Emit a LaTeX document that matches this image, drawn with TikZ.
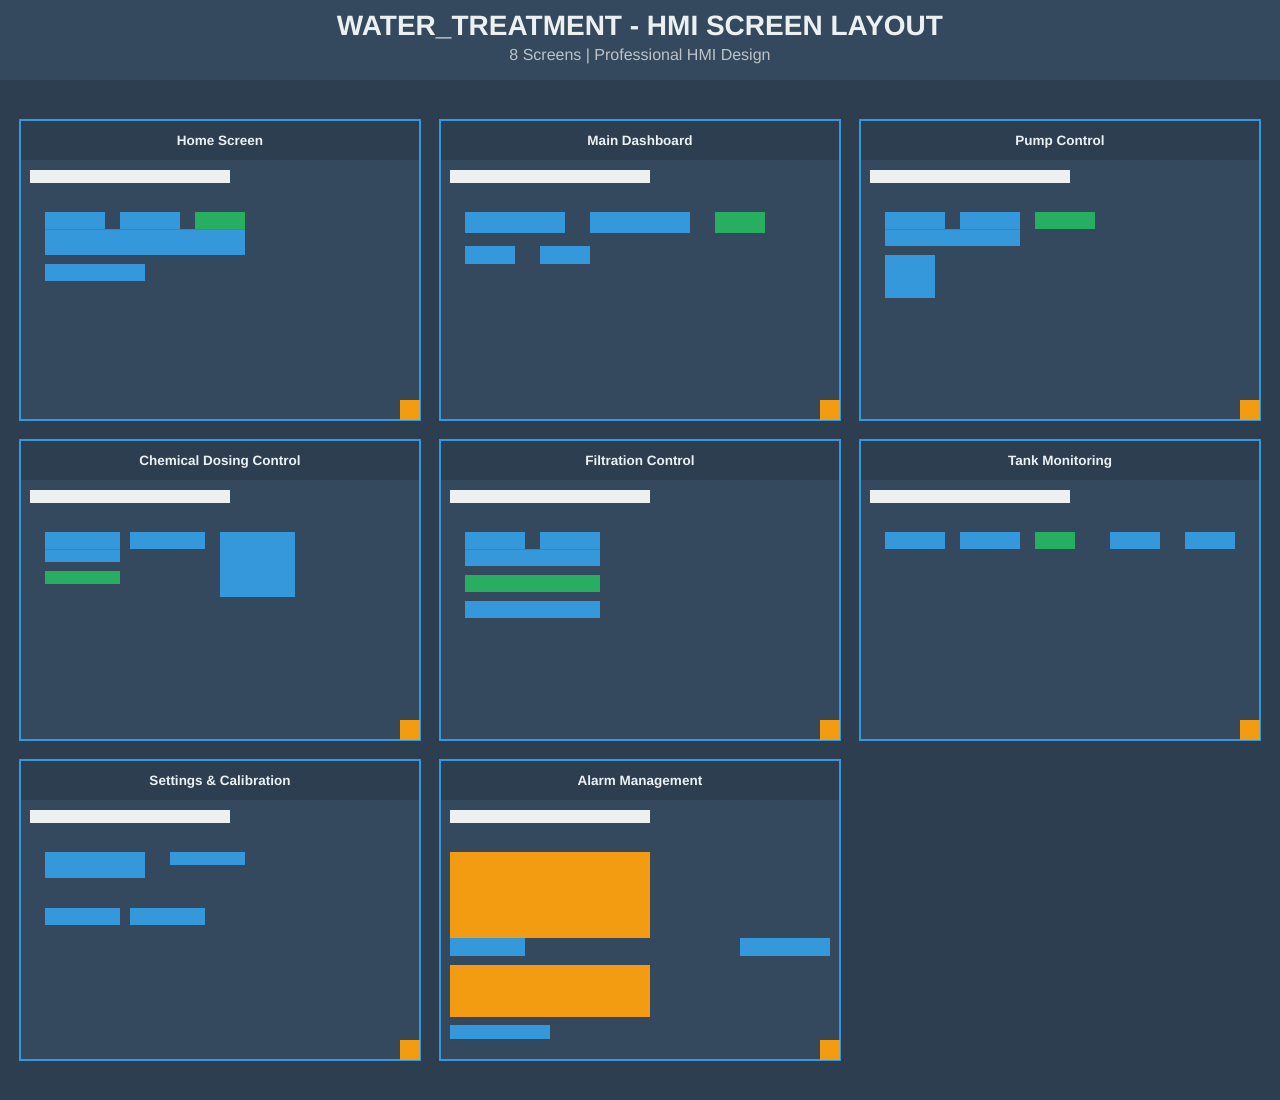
\documentclass[tikz,border=0pt]{standalone}
\usepackage{fontspec}
\setmainfont{Liberation Sans}
\usepackage{tikz}

\definecolor{pagebg}{HTML}{2C3E50}
\definecolor{bodybg}{HTML}{34495E}
\definecolor{frameblue}{HTML}{3498DB}
\definecolor{okgreen}{HTML}{27AE60}
\definecolor{warnorange}{HTML}{F39C12}
\definecolor{barwhite}{HTML}{ECF0F1}
\definecolor{subgray}{HTML}{BDC3C7}

\tikzset{
  blue widget/.style={fill=frameblue},
  green widget/.style={fill=okgreen},
  orange widget/.style={fill=warnorange},
  seam/.style={draw=frameblue!80!black,line width=1pt,opacity=.5},
  panel title/.style={anchor=base,text=barwhite,font=\bfseries\fontsize{13.5}{16}\selectfont,inner sep=0pt}
}

\begin{document}
\begin{tikzpicture}[x=1pt,y=-1pt]

\fill [pagebg] (0,0) rectangle (1280,1100);
\fill [bodybg] (0,0) rectangle (1280,80);

\node [anchor=base,text=barwhite,font=\bfseries\fontsize{28}{32}\selectfont,inner sep=0pt] (title) at (640,35) {WATER\_TREATMENT - HMI SCREEN LAYOUT};
\node [anchor=base,text=subgray,font=\fontsize{16}{19}\selectfont,inner sep=0pt] (subtitle) at (640,60) {8 Screens | Professional HMI Design};

% panels: frame, header band, title bar and corner mark
\foreach \px/\py/\pname/\ptitle in {20/120/home/Home Screen, 440/120/dash/Main Dashboard, 860/120/pump/Pump Control,
  20/440/chem/Chemical Dosing Control, 440/440/filt/Filtration Control, 860/440/tank/Tank Monitoring,
  20/760/sett/Settings \& Calibration, 440/760/alarm/Alarm Management} {
  \fill [bodybg] (\px,\py) rectangle ++(400,300);
  \fill [pagebg] (\px,\py) rectangle ++(400,40);
  \draw [frameblue,line width=2pt] (\px,\py) rectangle ++(400,300);
  \node [panel title] (\pname) at (\px+200,\py+25) {\ptitle};
  \fill [barwhite] (\px+10,\py+50) rectangle ++(200,13);
  \fill [warnorange] (\px+380,\py+280) rectangle ++(20,20);
}

% Home Screen
\fill [blue widget] (45,212) rectangle (105,229);
\fill [blue widget] (120,212) rectangle (180,229);
\fill [green widget] (195,212) rectangle (245,229);
\fill [blue widget] (45,229) rectangle (245,255);
\draw [seam] (45,229) -- (245,229);
\fill [blue widget] (45,264) rectangle (145,281);

% Main Dashboard
\fill [blue widget] (465,212) rectangle (565,233);
\fill [blue widget] (590,212) rectangle (690,233);
\fill [green widget] (715,212) rectangle (765,233);
\fill [blue widget] (465,246) rectangle (515,264);
\fill [blue widget] (540,246) rectangle (590,264);

% Pump Control
\fill [blue widget] (885,212) rectangle (945,229);
\fill [blue widget] (960,212) rectangle (1020,229);
\fill [green widget] (1035,212) rectangle (1095,229);
\fill [blue widget] (885,229) rectangle (1020,246);
\draw [seam] (885,229) -- (1020,229);
\fill [blue widget] (885,255) rectangle (935,298);

% Chemical Dosing Control
\fill [blue widget] (45,532) rectangle (120,562);
\draw [seam] (45,549) -- (120,549);
\fill [blue widget] (130,532) rectangle (205,549);
\fill [green widget] (45,571) rectangle (120,584);
\fill [blue widget] (220,532) rectangle (295,597);

% Filtration Control
\fill [blue widget] (465,532) rectangle (525,549);
\fill [blue widget] (540,532) rectangle (600,549);
\fill [blue widget] (465,549) rectangle (600,566);
\draw [seam] (465,549) -- (600,549);
\fill [green widget] (465,575) rectangle (600,592);
\fill [blue widget] (465,601) rectangle (600,618);

% Tank Monitoring
\fill [blue widget] (885,532) rectangle (945,549);
\fill [blue widget] (960,532) rectangle (1020,549);
\fill [green widget] (1035,532) rectangle (1075,549);
\fill [blue widget] (1110,532) rectangle (1160,549);
\fill [blue widget] (1185,532) rectangle (1235,549);

% Settings & Calibration
\fill [blue widget] (45,852) rectangle (145,878);
\fill [blue widget] (170,852) rectangle (245,865);
\fill [blue widget] (45,908) rectangle (120,925);
\fill [blue widget] (130,908) rectangle (205,925);

% Alarm Management
\fill [orange widget] (450,852) rectangle (650,938);
\fill [blue widget] (450,938) rectangle (525,956);
\fill [blue widget] (740,938) rectangle (830,956);
\fill [orange widget] (450,965) rectangle (650,1017);
\fill [blue widget] (450,1025) rectangle (550,1039);

\end{tikzpicture}
\end{document}
